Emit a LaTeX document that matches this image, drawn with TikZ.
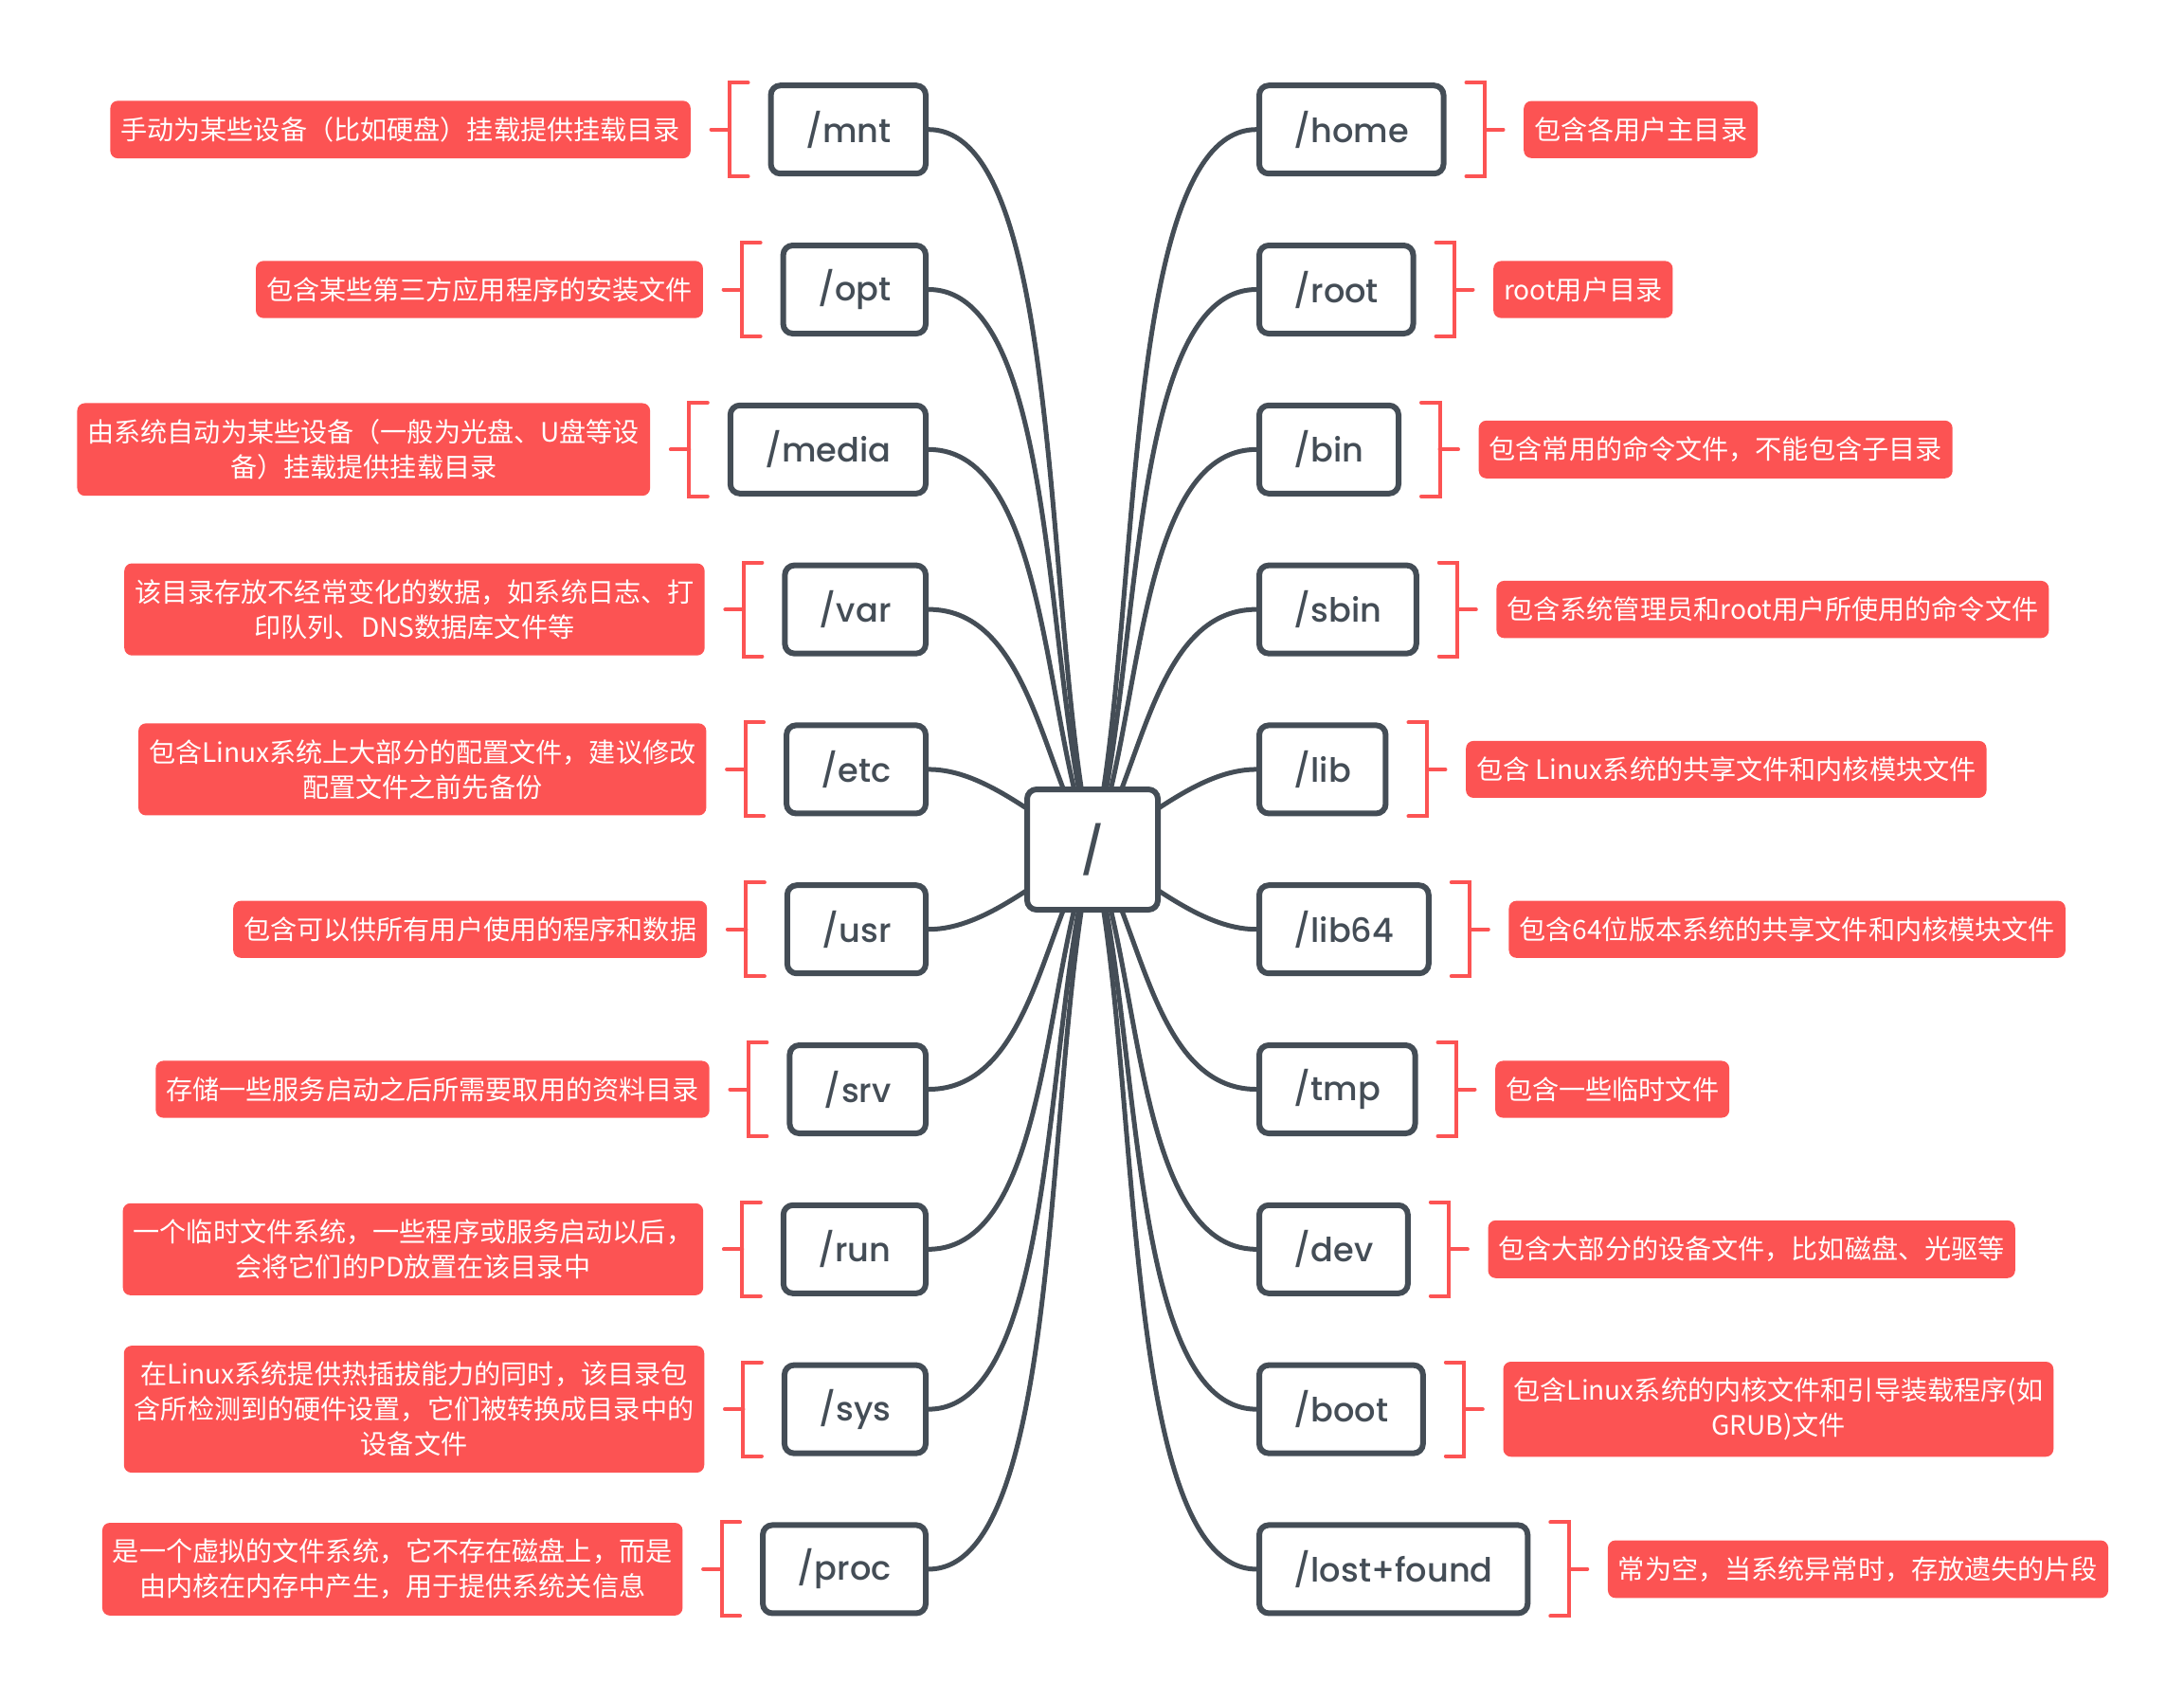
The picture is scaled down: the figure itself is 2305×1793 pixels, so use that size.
\documentclass[tikz,border=0pt]{standalone}
\usepackage{fontspec}
\newfontfamily\dirfont{Poppins}[UprightFont=* Medium]
\newfontfamily\cjk{Noto Sans CJK SC}
\usetikzlibrary{positioning,calc,backgrounds}
\definecolor{ink}{HTML}{444D56}
\definecolor{tag}{HTML}{FC5353}
\tikzstyle{folder} = [rectangle, rounded corners=1mm, draw=ink, line width=0.6mm, fill=white, minimum height=9.3mm, inner xsep=3.65mm, text=ink, font=\dirfont\fontsize{10}{12}\selectfont]
\tikzstyle{rootbox} = [folder, minimum width=13.8mm, minimum height=12.7mm, font=\dirfont\fontsize{14}{17}\selectfont]
\tikzstyle{desc} = [rectangle, rounded corners=0.8mm, fill=tag, text=white, align=center, inner xsep=1.1mm, inner ysep=1.7mm, font=\cjk\fontsize{8}{10.5}\selectfont]
\tikzstyle{link} = [draw=ink, line width=0.5mm, to path={let \p1=(\tikztostart), \p2=(\tikztotarget), \n1={abs((\y2)-(\y1))/(abs((\y2)-(\y1))+42.7pt)} in .. controls ($(\p1)!0.3!(\p2)$) and ({(\x2)+((\x1)-(\x2))*\n1},\y2) .. (\p2)}]
\tikzstyle{bline} = [draw=tag, line width=0.4mm, line cap=round]
% brackets between a folder and its note
\newcommand{\leftbr}[2]{%
  \draw[bline] ([xshift=-2.1mm]#1.north west) -- ([xshift=-4.05mm]#1.north west) -- ([xshift=-4.05mm]#1.south west) -- ([xshift=-2.1mm]#1.south west);
  \draw[bline] ([xshift=-4.05mm]#1.west) -- ([xshift=2.1mm]#2.east);}
\newcommand{\rightbr}[2]{%
  \draw[bline] ([xshift=2.1mm]#1.north east) -- ([xshift=4.05mm]#1.north east) -- ([xshift=4.05mm]#1.south east) -- ([xshift=2.1mm]#1.south east);
  \draw[bline] ([xshift=4.05mm]#1.east) -- ([xshift=-2.1mm]#2.west);}

\begin{document}
\begin{tikzpicture}[x=0.1mm,y=-0.1mm]
\useasboundingbox (0,0) rectangle (2305,1793);
\node (fs) [rootbox] at (1153,896.5) {/};
% left side
\node (mnt) [folder, anchor=east] at (980,136.7) {/mnt};
\node (opt) [folder, anchor=east] at (980,305.5) {/opt};
\node (media) [folder, anchor=east] at (980,474.3) {/media};
\node (var) [folder, anchor=east] at (980,643.1) {/var};
\node (etc) [folder, anchor=east] at (980,811.9) {/etc};
\node (usr) [folder, anchor=east] at (980,980.7) {/usr};
\node (srv) [folder, anchor=east] at (980,1149.5) {/srv};
\node (run) [folder, anchor=east] at (980,1318.3) {/run};
\node (sys) [folder, anchor=east] at (980,1487.1) {/sys};
\node (proc) [folder, anchor=east] at (980,1655.9) {/proc};
\node (mntd) [desc, left=8.1mm of mnt] {手动为某些设备（比如硬盘）挂载提供挂载目录};
\node (optd) [desc, left=8.1mm of opt] {包含某些第三方应用程序的安装文件};
\node (mediad) [desc, left=8.1mm of media] {由系统自动为某些设备（一般为光盘、U盘等设\\备）挂载提供挂载目录};
\node (vard) [desc, left=8.1mm of var] {该目录存放不经常变化的数据，如系统日志、打\\印队列、DNS数据库文件等};
\node (etcd) [desc, left=8.1mm of etc] {包含Linux系统上大部分的配置文件，建议修改\\配置文件之前先备份};
\node (usrd) [desc, left=8.1mm of usr] {包含可以供所有用户使用的程序和数据};
\node (srvd) [desc, left=8.1mm of srv] {存储一些服务启动之后所需要取用的资料目录};
\node (rund) [desc, left=8.1mm of run] {一个临时文件系统，一些程序或服务启动以后，\\会将它们的PD放置在该目录中};
\node (sysd) [desc, left=8.1mm of sys] {在Linux系统提供热插拔能力的同时，该目录包\\含所检测到的硬件设置，它们被转换成目录中的\\设备文件};
\node (procd) [desc, left=8.1mm of proc] {是一个虚拟的文件系统，它不存在磁盘上，而是\\由内核在内存中产生，用于提供系统关信息};
% right side
\node (home) [folder, anchor=west] at (1326,136.7) {/home};
\node (root) [folder, anchor=west] at (1326,305.5) {/root};
\node (bin) [folder, anchor=west] at (1326,474.3) {/bin};
\node (sbin) [folder, anchor=west] at (1326,643.1) {/sbin};
\node (lib) [folder, anchor=west] at (1326,811.9) {/lib};
\node (lib64) [folder, anchor=west] at (1326,980.7) {/lib64};
\node (tmp) [folder, anchor=west] at (1326,1149.5) {/tmp};
\node (dev) [folder, anchor=west] at (1326,1318.3) {/dev};
\node (boot) [folder, anchor=west] at (1326,1487.1) {/boot};
\node (lost) [folder, anchor=west] at (1326,1655.9) {/lost+found};
\node (homed) [desc, right=8.1mm of home] {包含各用户主目录};
\node (rootd) [desc, right=8.1mm of root] {root用户目录};
\node (bind) [desc, right=8.1mm of bin] {包含常用的命令文件，不能包含子目录};
\node (sbind) [desc, right=8.1mm of sbin] {包含系统管理员和root用户所使用的命令文件};
\node (libd) [desc, right=8.1mm of lib] {包含 Linux系统的共享文件和内核模块文件};
\node (lib64d) [desc, right=8.1mm of lib64] {包含64位版本系统的共享文件和内核模块文件};
\node (tmpd) [desc, right=8.1mm of tmp] {包含一些临时文件};
\node (devd) [desc, right=8.1mm of dev] {包含大部分的设备文件，比如磁盘、光驱等};
\node (bootd) [desc, right=8.1mm of boot] {包含Linux系统的内核文件和引导装载程序(如\\GRUB)文件};
\node (lostd) [desc, right=8.1mm of lost] {常为空，当系统异常时，存放遗失的片段};
% brackets
\leftbr{mnt}{mntd}
\leftbr{opt}{optd}
\leftbr{media}{mediad}
\leftbr{var}{vard}
\leftbr{etc}{etcd}
\leftbr{usr}{usrd}
\leftbr{srv}{srvd}
\leftbr{run}{rund}
\leftbr{sys}{sysd}
\leftbr{proc}{procd}
\rightbr{home}{homed}
\rightbr{root}{rootd}
\rightbr{bin}{bind}
\rightbr{sbin}{sbind}
\rightbr{lib}{libd}
\rightbr{lib64}{lib64d}
\rightbr{tmp}{tmpd}
\rightbr{dev}{devd}
\rightbr{boot}{bootd}
\rightbr{lost}{lostd}
% branches from /
\begin{scope}[on background layer]
\draw[link] (fs.center) to (mnt.east);
\draw[link] (fs.center) to (opt.east);
\draw[link] (fs.center) to (media.east);
\draw[link] (fs.center) to (var.east);
\draw[link] (fs.center) to (etc.east);
\draw[link] (fs.center) to (usr.east);
\draw[link] (fs.center) to (srv.east);
\draw[link] (fs.center) to (run.east);
\draw[link] (fs.center) to (sys.east);
\draw[link] (fs.center) to (proc.east);
\draw[link] (fs.center) to (home.west);
\draw[link] (fs.center) to (root.west);
\draw[link] (fs.center) to (bin.west);
\draw[link] (fs.center) to (sbin.west);
\draw[link] (fs.center) to (lib.west);
\draw[link] (fs.center) to (lib64.west);
\draw[link] (fs.center) to (tmp.west);
\draw[link] (fs.center) to (dev.west);
\draw[link] (fs.center) to (boot.west);
\draw[link] (fs.center) to (lost.west);
\end{scope}
\end{tikzpicture}
\end{document}
